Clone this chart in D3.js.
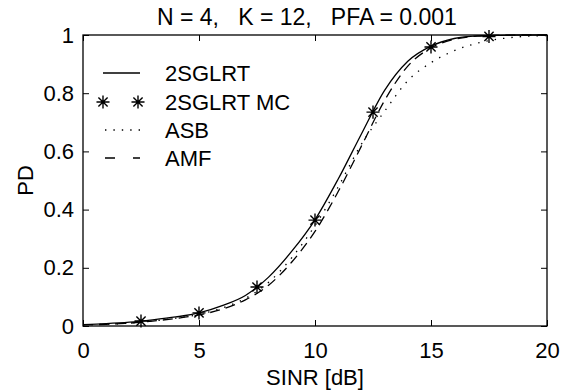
<!DOCTYPE html>
<html>
<head>
<meta charset="utf-8">
<script src="https://cdn.jsdelivr.net/npm/d3@7"></script>
<style>
  body { margin: 0; background: #fff; }
  text { font-family: "Liberation Sans", Arial, sans-serif; fill: #000; }
</style>
</head>
<body>
<div id="chart"></div>
<script>
// SINR grid (dB) for the analytic curves
const sinr = [0, 1, 2, 3, 4, 5, 6, 7, 8, 9, 10, 11, 12, 13, 14, 15, 16, 17, 18, 19, 20]
const pdGlrt = [0.005, 0.008, 0.013, 0.021, 0.031, 0.045, 0.07, 0.105, 0.168, 0.257, 0.365, 0.505, 0.66, 0.81, 0.91, 0.962, 0.988, 0.997, 0.999, 1, 1]
const pdAsb = [0.004, 0.006, 0.01, 0.017, 0.027, 0.04, 0.062, 0.095, 0.15, 0.235, 0.345, 0.478, 0.625, 0.738, 0.843, 0.905, 0.946, 0.972, 0.987, 0.995, 0.998]
const pdAmf = [0.004, 0.006, 0.01, 0.017, 0.026, 0.038, 0.058, 0.09, 0.14, 0.22, 0.325, 0.462, 0.618, 0.775, 0.893, 0.956, 0.985, 0.996, 0.999, 1, 1]

// Monte Carlo points
const mcSinr = [2.5, 5, 7.5, 10, 12.5, 15, 17.5]
const mcPd = [0.017, 0.045, 0.134, 0.364, 0.735, 0.959, 0.995]

const xTicks = [0, 5, 10, 15, 20]
const yTicks = [0, 0.2, 0.4, 0.6, 0.8, 1]
const legendLabels = ['2SGLRT', '2SGLRT MC', 'ASB', 'AMF']
const titleText = 'N = 4,   K = 12,   PFA = 0.001'

const W = 580, H = 390
const margin = { top: 35, right: 33, bottom: 64, left: 83 }
const width = W - margin.left - margin.right
const height = H - margin.top - margin.bottom
const fontSize = 22

const x = d3.scaleLinear().domain([0, 20]).range([0, width])
const y = d3.scaleLinear().domain([0, 1]).range([height, 0])

const svg = d3.select('#chart')
  .append('svg')
  .attr('width', W)
  .attr('height', H)

svg.append('rect').attr('width', W).attr('height', H).attr('fill', '#fff')

const g = svg.append('g')
  .attr('transform', `translate(${margin.left},${margin.top})`)

// Axes, MATLAB style: box on, ticks pointing in
const styleAxis = sel => {
  sel.select('.domain').remove()
  sel.selectAll('.tick line').attr('stroke', '#000').attr('stroke-width', 1)
  sel.selectAll('.tick text').attr('font-size', fontSize).attr('font-family', '"Liberation Sans", Arial, sans-serif')
}

g.append('g')
  .attr('transform', `translate(0,${height})`)
  .call(d3.axisBottom(x).tickValues(xTicks).tickSize(-6).tickPadding(16).tickFormat(d3.format('d')))
  .call(styleAxis)

g.append('g')
  .call(d3.axisTop(x).tickValues(xTicks).tickSize(-6).tickFormat(''))
  .call(styleAxis)

g.append('g')
  .call(d3.axisLeft(y).tickValues(yTicks).tickSize(-6).tickPadding(9).tickFormat(d => d === 0 || d === 1 ? d3.format('d')(d) : d3.format('.1f')(d)))
  .call(styleAxis)

g.append('g')
  .attr('transform', `translate(${width},0)`)
  .call(d3.axisRight(y).tickValues(yTicks).tickSize(-6).tickFormat(''))
  .call(styleAxis)

g.append('rect')
  .attr('width', width)
  .attr('height', height)
  .attr('fill', 'none')
  .attr('stroke', '#000')
  .attr('stroke-width', 1.3)

// Curves
const line = d3.line()
  .x(d => x(d[0]))
  .y(d => y(d[1]))
  .curve(d3.curveMonotoneX)

const series = [
  { vals: pdGlrt, dash: null },
  { vals: pdAsb, dash: '1.4 7' },
  { vals: pdAmf, dash: '10 6' }
]

series.forEach(s => {
  g.append('path')
    .datum(sinr.map((v, i) => [v, s.vals[i]]))
    .attr('fill', 'none')
    .attr('stroke', '#000')
    .attr('stroke-width', 1.3)
    .attr('stroke-dasharray', s.dash)
    .attr('d', line)
})

// MATLAB '*' marker: plus and cross together
const matlabStar = {
  draw(ctx, size) {
    const r = Math.sqrt(size) / 2
    const k = r * Math.SQRT1_2
    ctx.moveTo(-r, 0); ctx.lineTo(r, 0)
    ctx.moveTo(0, -r); ctx.lineTo(0, r)
    ctx.moveTo(-k, -k); ctx.lineTo(k, k)
    ctx.moveTo(-k, k); ctx.lineTo(k, -k)
  }
}
const star = d3.symbol().type(matlabStar).size(170)

g.selectAll('.mc')
  .data(mcSinr.map((v, i) => [v, mcPd[i]]))
  .enter()
  .append('path')
  .attr('class', 'mc')
  .attr('transform', d => `translate(${x(d[0])},${y(d[1])})`)
  .attr('d', star)
  .attr('fill', 'none')
  .attr('stroke', '#000')
  .attr('stroke-width', 1.4)

// Legend
const legend = svg.append('g')
const rowY = [73, 102, 130, 158]
const lx0 = 103, lx1 = 140

legend.append('line')
  .attr('x1', lx0).attr('x2', lx1).attr('y1', rowY[0]).attr('y2', rowY[0])
  .attr('stroke', '#000').attr('stroke-width', 1.3)

;[lx0, lx1 - 2].forEach(px => {
  legend.append('path')
    .attr('transform', `translate(${px},${rowY[1]})`)
    .attr('d', star)
    .attr('fill', 'none')
    .attr('stroke', '#000')
    .attr('stroke-width', 1.4)
})

legend.append('line')
  .attr('x1', lx0 + 2).attr('x2', lx1).attr('y1', rowY[2]).attr('y2', rowY[2])
  .attr('stroke', '#000').attr('stroke-width', 1.3).attr('stroke-dasharray', '1.4 7')

legend.append('line')
  .attr('x1', lx0 + 2).attr('x2', lx1).attr('y1', rowY[3]).attr('y2', rowY[3])
  .attr('stroke', '#000').attr('stroke-width', 1.3).attr('stroke-dasharray', '10 18')

legend.selectAll('.lab')
  .data(legendLabels)
  .enter()
  .append('text')
  .attr('class', 'lab')
  .attr('x', 165)
  .attr('y', (d, i) => rowY[i])
  .attr('dy', '0.36em')
  .attr('font-size', fontSize)
  .text(d => d)

// Titles
svg.append('text')
  .attr('x', 157)
  .attr('y', 25)
  .attr('font-size', 23)
  .attr('xml:space', 'preserve')
  .style('white-space', 'pre')
  .text(titleText)

svg.append('text')
  .attr('x', margin.left + width / 2)
  .attr('y', 385)
  .attr('text-anchor', 'middle')
  .attr('font-size', fontSize)
  .text('SINR [dB]')

svg.append('text')
  .attr('transform', `translate(33,${margin.top + height / 2}) rotate(-90)`)
  .attr('text-anchor', 'middle')
  .attr('font-size', fontSize)
  .text('PD')
</script>
</body>
</html>
